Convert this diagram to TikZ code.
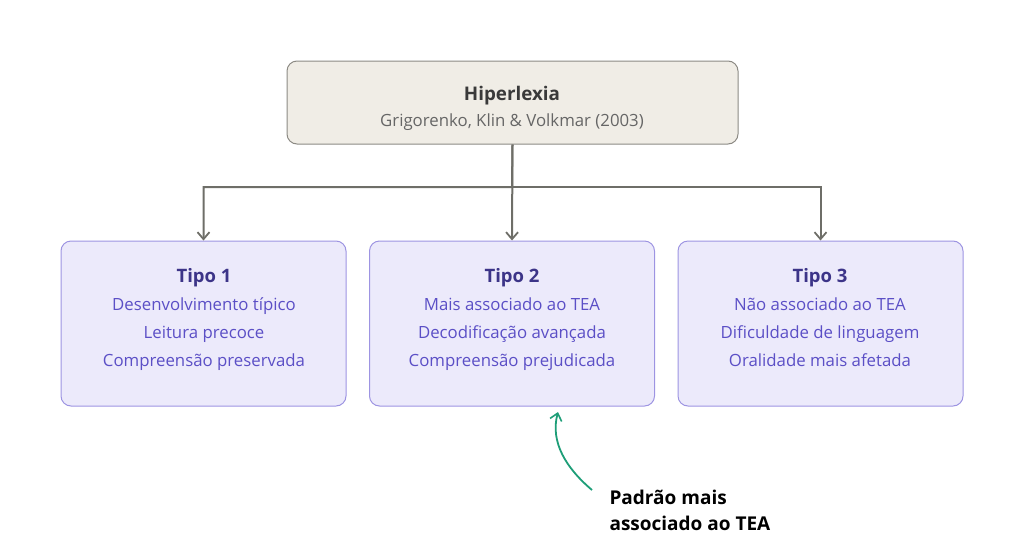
\documentclass[tikz,border=0pt]{standalone}
\usepackage{fontspec}
\setmainfont{Open Sans}
\usetikzlibrary{arrows.meta}
\definecolor{hxbeige}{HTML}{F0EDE6}
\definecolor{hxbeigeline}{HTML}{8C8A84}
\definecolor{hxdark}{HTML}{3A3A3A}
\definecolor{hxgray}{HTML}{666666}
\definecolor{hxconn}{HTML}{6E6E68}
\definecolor{hxlav}{HTML}{ECEAFB}
\definecolor{hxlavline}{HTML}{9D94E2}
\definecolor{hxindigo}{HTML}{3C3488}
\definecolor{hxviolet}{HTML}{5B4FC6}
\definecolor{hxgreen}{HTML}{1E9E78}

\begin{document}
\begin{tikzpicture}[
        x=1pt, y=1pt,
        root/.style={
          draw=hxbeigeline, line width=1pt,
          fill=hxbeige, rounded corners=10pt,
          minimum width=451pt, minimum height=83pt,
        },
        tipo/.style={
          draw=hxlavline, line width=1pt,
          fill=hxlav, rounded corners=10pt,
          minimum width=285pt, minimum height=165pt,
        },
        tipotxt/.style={
          anchor=north, align=center, text=hxviolet, inner sep=0pt,
          font=\fontsize{16.8}{28}\selectfont,
        },
        conn/.style={draw=hxconn, line width=2pt,
          -{Straight Barb[length=7pt,width=12pt,line width=1.8pt]}},
        note/.style={draw=hxgreen, line width=1.8pt,
          -{Straight Barb[length=7pt,width=12pt,line width=1.6pt]}},
      ]
      \useasboundingbox (0,0) rectangle (1024,-552);

      % raiz
      \node[root] (hx) at (512.5,-102.5) {};
      \node[font=\fontsize{18.8}{22}\selectfont\bfseries, text=hxdark]
        (hxtitle) at (512,-96) {Hiperlexia};
      \node[font=\fontsize{16.8}{20}\selectfont, text=hxgray]
        (hxref) at (512,-122) {Grigorenko, Klin \& Volkmar (2003)};

      % tipos
      \node[tipo] (t1) at (203.5,-323.5) {};
      \node[tipo] (t2) at (512,-323.5) {};
      \node[tipo] (t3) at (820.5,-323.5) {};

      \node[tipotxt] (t1txt) at (204,-268) {{\fontsize{18.5}{20}\selectfont\bfseries\color{hxindigo}Tipo 1}\\
        Desenvolvimento típico\\ Leitura precoce\\ Compreensão preservada};
      \node[tipotxt] (t2txt) at (512,-268) {{\fontsize{18.5}{20}\selectfont\bfseries\color{hxindigo}Tipo 2}\\
        Mais associado ao TEA\\ Decodificação avançada\\ Compreensão prejudicada};
      \node[tipotxt] (t3txt) at (820,-268) {{\fontsize{18.5}{20}\selectfont\bfseries\color{hxindigo}Tipo 3}\\
        Não associado ao TEA\\ Dificuldade de linguagem\\ Oralidade mais afetada};

      % ligações
      \coordinate (split) at (512,-187);
      \draw[conn] (hx.south) -- (t2.north);
      \draw[conn] (hx.south) -- (split) -| (t1.north);
      \draw[conn] (split) -| (t3.north);

      % nota
      \node[anchor=west, align=left, text=black,
        font=\fontsize{19}{26}\selectfont\bfseries] (padrao) at (606,-510)
        {Padrão mais\\ associado ao TEA};
      \coordinate (notestart) at (592,-490);
      \coordinate (noteend) at (558,-412);
      \draw[note] (notestart) .. controls (566,-468) and (550,-442) .. (noteend);
    \end{tikzpicture}
\end{document}
